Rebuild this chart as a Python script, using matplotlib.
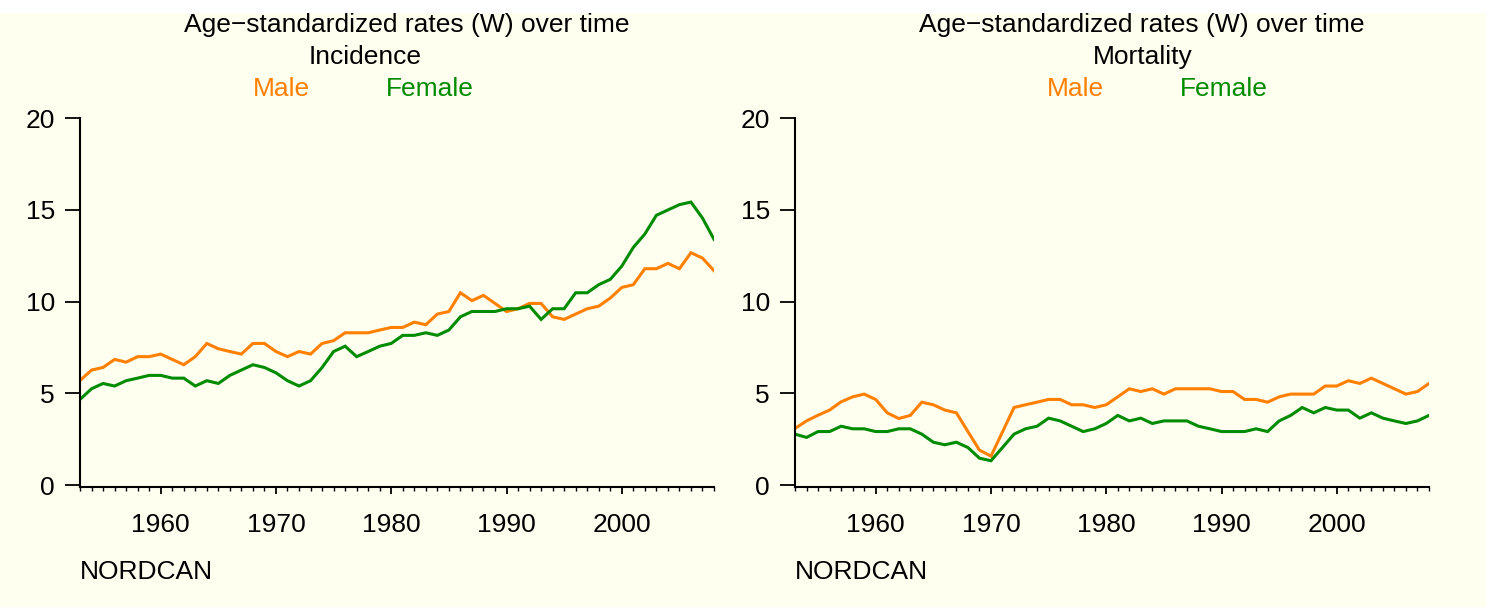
import matplotlib
matplotlib.use("Agg")
import matplotlib.pyplot as plt
from matplotlib.patches import Rectangle
from matplotlib.ticker import MultipleLocator, FixedLocator

plt.rcParams['font.family'] = ['Liberation Sans', 'DejaVu Sans']

years = list(range(1953, 2009))

inc_male = [5.7, 6.27, 6.41, 6.85, 6.7, 7.0, 7.0, 7.14, 6.85, 6.56,
            7.0, 7.72, 7.43, 7.28, 7.14, 7.72, 7.72, 7.28, 7.0, 7.28,
            7.14, 7.72, 7.87, 8.3, 8.3, 8.3, 8.45, 8.59, 8.59, 8.88,
            8.74, 9.32, 9.46, 10.48, 10.05, 10.34, 9.9, 9.46, 9.61, 9.9,
            9.9, 9.17, 9.03, 9.32, 9.61, 9.75, 10.19, 10.77, 10.92, 11.79,
            11.79, 12.08, 11.79, 12.66, 12.37, 11.68]
inc_female = [4.67, 5.25, 5.54, 5.4, 5.69, 5.83, 5.98, 5.98, 5.83, 5.83,
              5.4, 5.69, 5.54, 5.98, 6.27, 6.56, 6.41, 6.12, 5.69, 5.4,
              5.69, 6.41, 7.28, 7.57, 7.0, 7.28, 7.57, 7.72, 8.16, 8.16,
              8.3, 8.16, 8.45, 9.17, 9.46, 9.46, 9.46, 9.61, 9.61, 9.75,
              9.03, 9.61, 9.61, 10.48, 10.48, 10.92, 11.21, 11.93, 12.95, 13.68,
              14.7, 14.99, 15.28, 15.42, 14.55, 13.39]
mort_male = [3.09, 3.5, 3.81, 4.09, 4.54, 4.81, 4.96, 4.67, 3.94, 3.63,
             3.8, 4.52, 4.38, 4.09, 3.94, 2.92, 1.91, 1.58, 2.9, 4.23,
             4.38, 4.52, 4.67, 4.67, 4.38, 4.38, 4.23, 4.38, 4.81, 5.25,
             5.1, 5.25, 4.96, 5.25, 5.25, 5.25, 5.25, 5.1, 5.1, 4.67,
             4.67, 4.52, 4.81, 4.96, 4.96, 4.96, 5.4, 5.4, 5.69, 5.54,
             5.83, 5.54, 5.25, 4.96, 5.1, 5.54]
mort_female = [2.78, 2.6, 2.92, 2.92, 3.21, 3.07, 3.07, 2.92, 2.92, 3.07,
               3.07, 2.78, 2.34, 2.2, 2.34, 2.05, 1.47, 1.33, 2.05, 2.78,
               3.07, 3.21, 3.65, 3.5, 3.21, 2.92, 3.07, 3.36, 3.8, 3.5,
               3.65, 3.36, 3.5, 3.5, 3.5, 3.21, 3.07, 2.92, 2.92, 2.92,
               3.07, 2.92, 3.5, 3.8, 4.23, 3.94, 4.23, 4.09, 4.09, 3.65,
               3.94, 3.65, 3.5, 3.36, 3.5, 3.8]

title_main = "Age\u2212standardized rates (W) over time"
panels = [("Incidence", inc_male, inc_female), ("Mortality", mort_male, mort_female)]
major_years = [1960, 1970, 1980, 1990, 2000]
yticks = [0, 5, 10, 15, 20]

bg = "#FFFFF0"
c_male = "#FF7F00"
c_female = "#008B00"
fs = 19

fig = plt.figure(figsize=(14.86, 6.07), dpi=100, facecolor=bg)
W, H = 1486, 607
fig.patches.append(Rectangle((0, 1 - 13 / H), 1, 13 / H, transform=fig.transFigure,
                             facecolor='white', edgecolor='none', zorder=-1))

axes_px = [(80, 714), (795, 1429)]
# text centers (px): title, subtitle, male, female
text_px = [(407, 365, 281, 430), (1142, 1143, 1075, 1224)]
for (x0, x1), (sub, m, f), (tx, sx, mx, fx) in zip(axes_px, panels, text_px):
    ax = fig.add_axes([x0 / W, 1 - 487 / H, (x1 - x0) / W, (487 - 118) / H])
    ax.set_facecolor(bg)
    ax.plot(years, m, color=c_male, lw=2.2, solid_joinstyle='miter')
    ax.plot(years, f, color=c_female, lw=2.2, solid_joinstyle='miter')
    ax.set_xlim(1953, 2008)
    ax.set_ylim(-0.1, 20)
    ax.spines['top'].set_visible(False)
    ax.spines['right'].set_visible(False)
    for s in ('left', 'bottom'):
        ax.spines[s].set_linewidth(1.5)
    ax.set_yticks(yticks)
    ax.set_yticklabels([str(v) for v in yticks])
    ax.xaxis.set_major_locator(FixedLocator(major_years))
    ax.xaxis.set_minor_locator(MultipleLocator(1))
    ax.set_xticklabels([str(v) for v in major_years])
    ax.tick_params(axis='y', length=11, width=1.3, pad=7, labelsize=fs)
    ax.tick_params(axis='x', which='major', length=5, width=1.3, pad=14, labelsize=fs)
    ax.tick_params(axis='x', which='minor', length=3, width=1.0)
    fig.text(tx / W, 1 - 25 / H, title_main, ha='center', va='center', fontsize=fs)
    fig.text(sx / W, 1 - 57 / H, sub, ha='center', va='center', fontsize=fs)
    fig.text(mx / W, 1 - 89 / H, "Male", ha='center', va='center', fontsize=fs, color=c_male)
    fig.text(fx / W, 1 - 89 / H, "Female", ha='center', va='center', fontsize=fs, color=c_female)
    fig.text(x0 / W, 1 - 572 / H, "NORDCAN", ha='left', va='center', fontsize=fs)

fig.savefig("out.png", dpi=100, facecolor=bg)
